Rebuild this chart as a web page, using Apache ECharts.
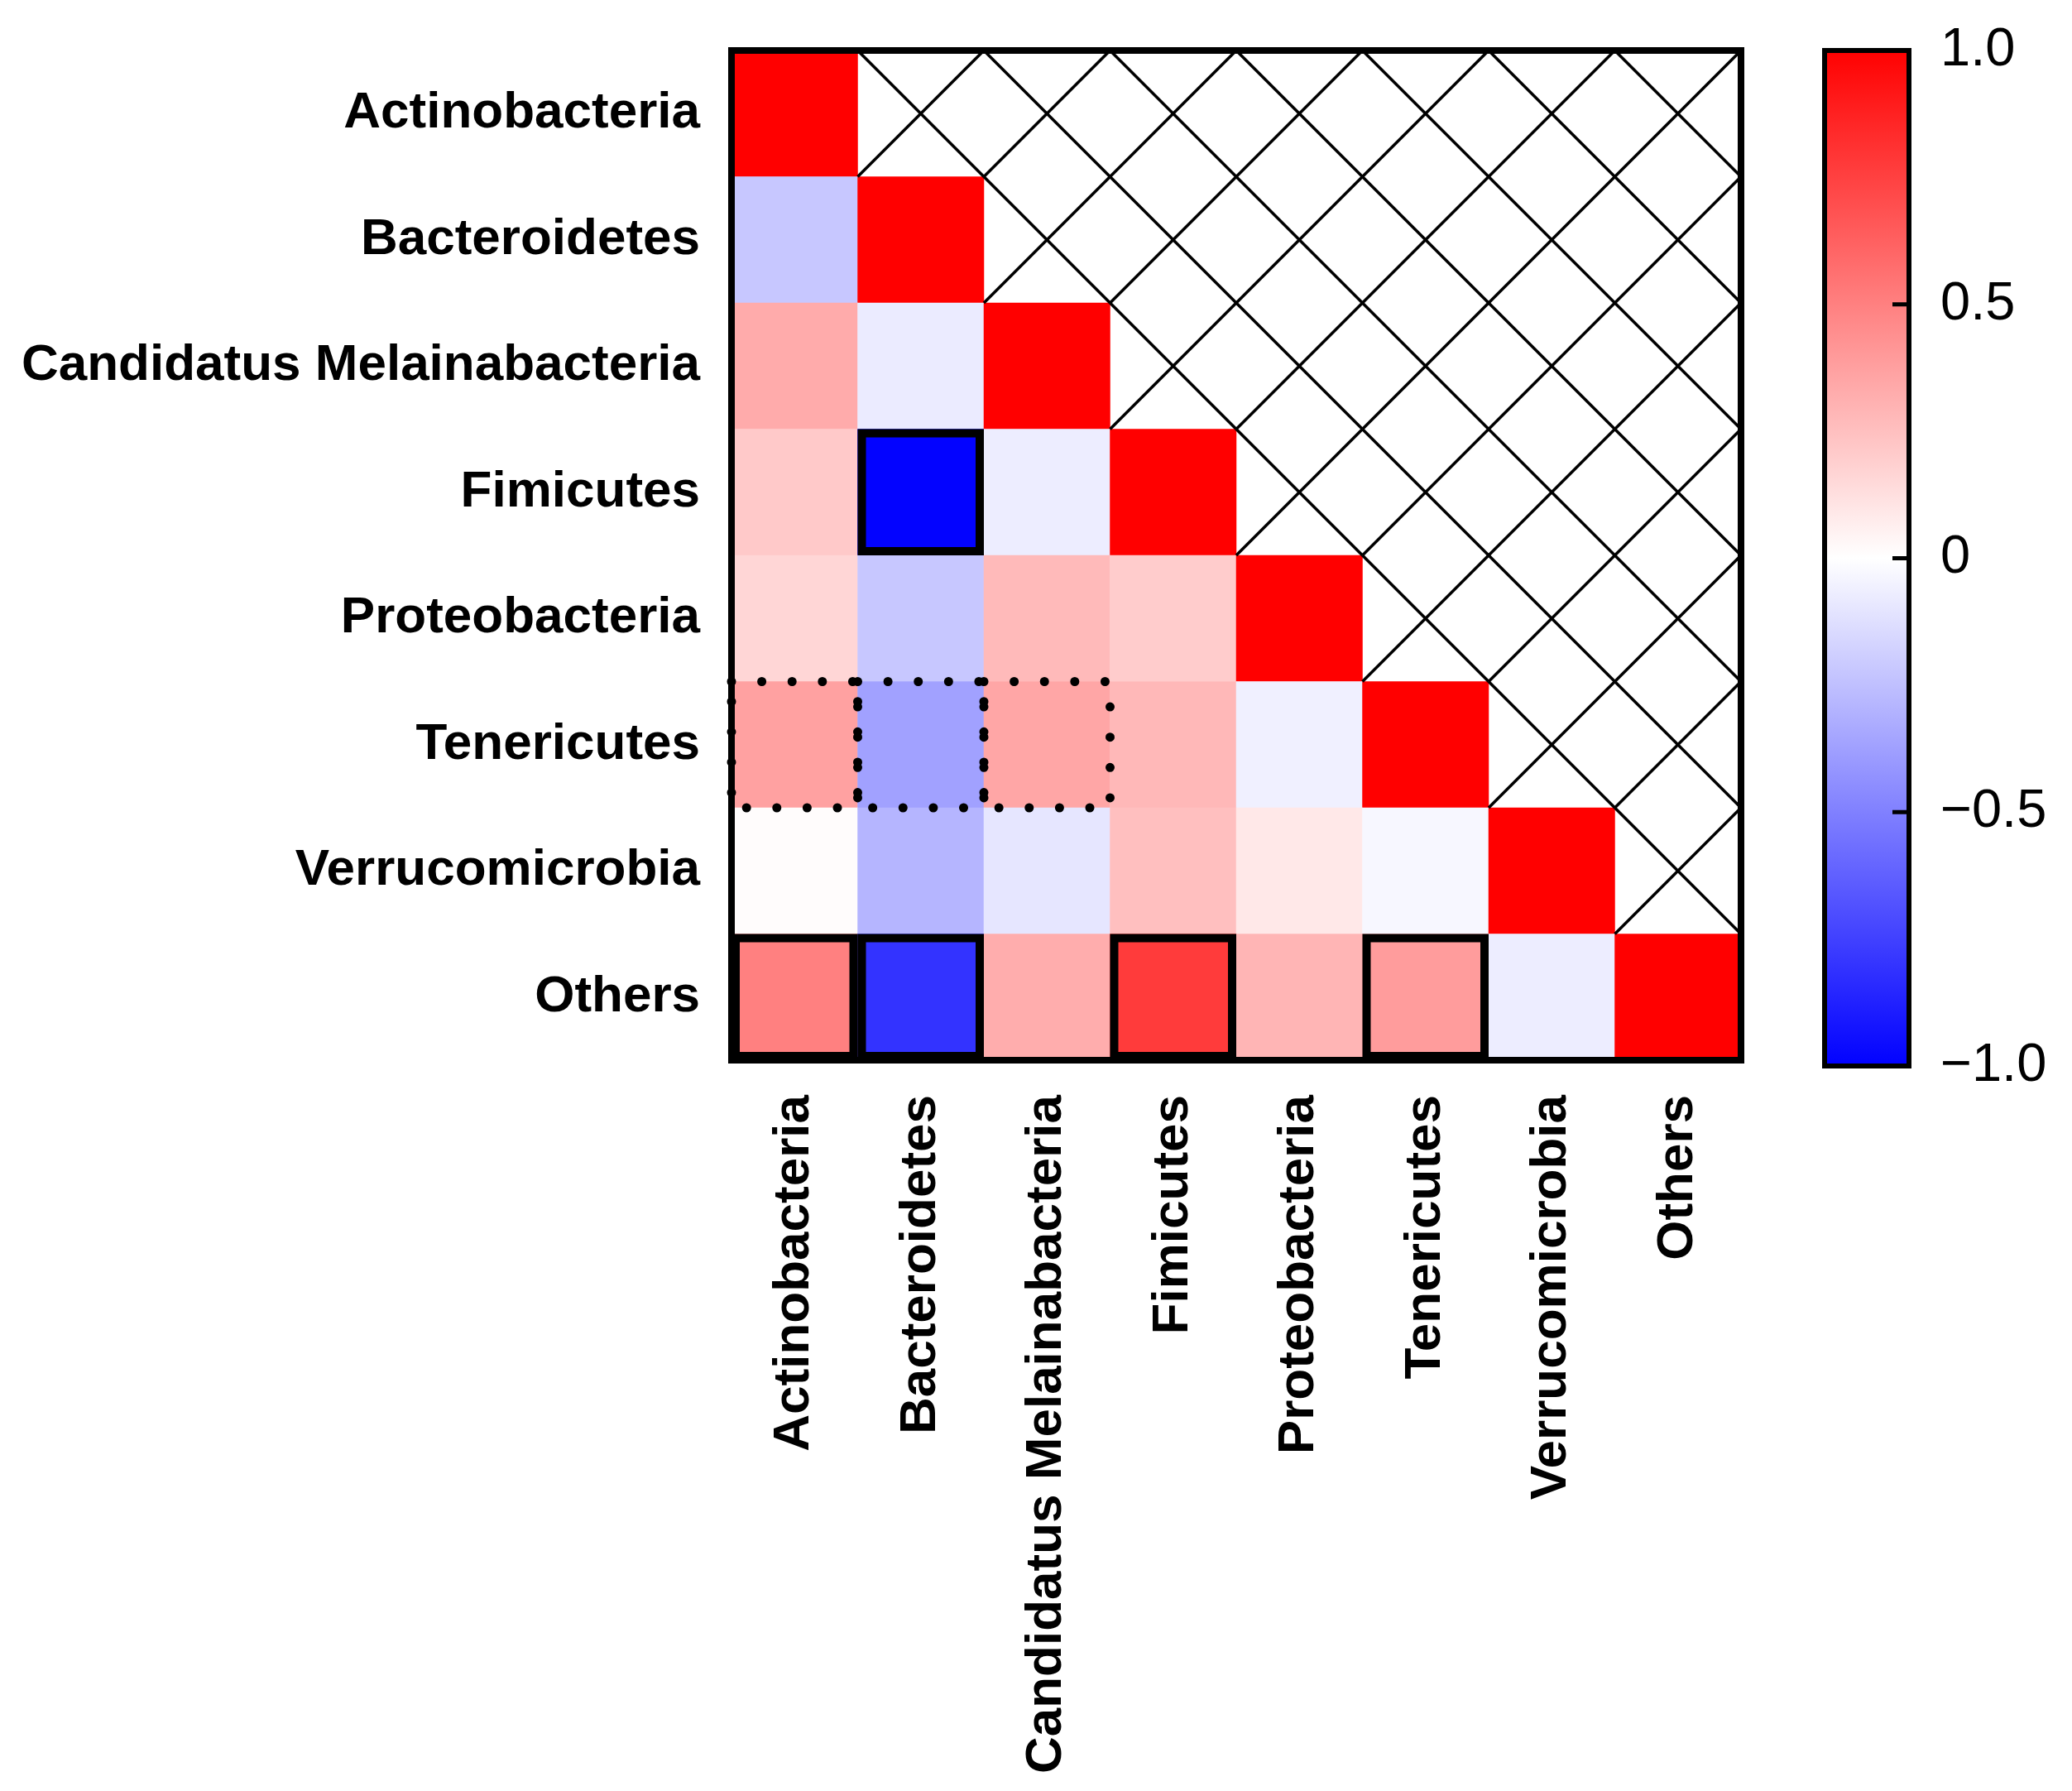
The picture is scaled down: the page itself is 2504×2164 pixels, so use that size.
<!DOCTYPE html>
<html>
<head>
<meta charset="utf-8">
<script src="https://cdn.jsdelivr.net/npm/echarts@6/dist/echarts.min.js"></script>
<style>
html,body{margin:0;padding:0;background:#fff;}
#chart{width:2504px;height:2164px;}
</style>
</head>
<body>
<div id="chart"></div>
<script>
// ---- data ----
const categories = ['Actinobacteria','Bacteroidetes','Candidatus Melainabacteria','Fimicutes','Proteobacteria','Tenericutes','Verrucomicrobia','Others'];
const rowActinobacteria = [1];
const rowBacteroidetes = [-0.22, 1];
const rowCandidatus = [0.33, -0.08, 1];
const rowFimicutes = [0.21, -0.99, -0.07, 1];
const rowProteobacteria = [0.16, -0.22, 0.27, 0.20, 1];
const rowTenericutes = [0.37, -0.37, 0.35, 0.28, -0.06, 1];
const rowVerrucomicrobia = [0.01, -0.29, -0.10, 0.25, 0.09, -0.03, 1];
const rowOthers = [0.50, -0.80, 0.32, 0.77, 0.29, 0.39, -0.07, 1];
const boldCells = [[3,1],[7,0],[7,1],[7,3],[7,5]];   // [row, col]
const dottedCells = [[5,0],[5,1],[5,2]];             // [row, col]
const colorbarTicks = [-1, -0.5, 0, 0.5, 1];
const colorbarTickLabels = ['\u22121.0','\u22120.5','0','0.5','1.0'];

const rows = [rowActinobacteria,rowBacteroidetes,rowCandidatus,rowFimicutes,rowProteobacteria,rowTenericutes,rowVerrucomicrobia,rowOthers];
const heatData = [];
const crossData = [];
rows.forEach((vals, r) => {
  vals.forEach((v, c) => heatData.push([c, r, v]));
  for (let c = vals.length; c < categories.length; c++) crossData.push([c, r]);
});

const chart = echarts.init(document.getElementById('chart'), null, {renderer:'canvas'});
const FONT = 'Liberation Sans, Arial, sans-serif';

function cellRect(api, c, r) {
  const ctr = api.coord([c, r]);
  const sz = api.size([1, 1]);
  return {x: ctr[0]-sz[0]/2, y: ctr[1]-sz[1]/2, w: sz[0], h: sz[1]};
}

chart.setOption({
  animation: false,
  backgroundColor: '#ffffff',
  grid: [
    {left: 884, top: 61, width: 1220, height: 1220},
    {left: 2205, top: 61, width: 102, height: 1227}
  ],
  xAxis: [
    {type:'category', gridIndex:0, data: categories, position:'bottom',
     axisLine:{show:false}, axisTick:{show:false}, splitLine:{show:false},
     axisLabel:{rotate:90, fontSize:62, fontWeight:'bold', color:'#000', fontFamily:FONT, margin:42, interval:0}},
    {type:'value', gridIndex:1, min:0, max:1, show:false,
     axisLine:{show:false}, axisTick:{show:false}, axisLabel:{show:false}, splitLine:{show:false}}
  ],
  yAxis: [
    {type:'category', gridIndex:0, data: categories, inverse:true,
     axisLine:{show:false}, axisTick:{show:false}, splitLine:{show:false},
     axisLabel:{fontSize:62, fontWeight:'bold', color:'#000', fontFamily:FONT, margin:38, interval:0}},
    {type:'value', gridIndex:1, min:-1, max:1, interval:0.5, position:'right',
     axisLine:{show:false}, splitLine:{show:false}, axisTick:{show:false},
     axisLabel:{fontSize:65, color:'#000', fontFamily:FONT, margin:38,
       formatter: v => {
         const i = colorbarTicks.findIndex(t => Math.abs(t - v) < 1e-9);
         return i >= 0 ? colorbarTickLabels[i] : '';
       }}}
  ],
  visualMap: {
    type:'continuous', min:-1, max:1, show:false, seriesIndex:0, dimension:2,
    inRange:{color:['#0000FF','#FFFFFF','#FF0000']}
  },
  series: [
    {type:'heatmap', xAxisIndex:0, yAxisIndex:0, data: heatData,
     itemStyle:{borderWidth:0}, emphasis:{disabled:true}},
    {type:'custom', xAxisIndex:0, yAxisIndex:0, data: crossData, z:3, silent:true,
     renderItem: (params, api) => {
       const b = cellRect(api, api.value(0), api.value(1));
       return {type:'group', children:[
         {type:'line', shape:{x1:b.x, y1:b.y, x2:b.x+b.w, y2:b.y+b.h}, style:{stroke:'#000', lineWidth:3.5}},
         {type:'line', shape:{x1:b.x+b.w, y1:b.y, x2:b.x, y2:b.y+b.h}, style:{stroke:'#000', lineWidth:3.5}}
       ]};
     }},
    {type:'custom', xAxisIndex:0, yAxisIndex:0, data: dottedCells.map(d => [d[1], d[0]]), z:4, silent:true, clip:false,
     renderItem: (params, api) => {
       const b = cellRect(api, api.value(0), api.value(1));
       return {type:'rect', shape:{x:b.x, y:b.y, width:b.w, height:b.h},
         style:{fill:'none', stroke:'#000', lineWidth:11, lineDash:[0.01, 36.6], lineCap:'round'}};
     }},
    {type:'custom', xAxisIndex:0, yAxisIndex:0, data: boldCells.map(d => [d[1], d[0]]), z:5, silent:true,
     renderItem: (params, api) => {
       const b = cellRect(api, api.value(0), api.value(1));
       const t = 10;
       return {type:'rect', shape:{x:b.x+t/2, y:b.y+t/2, width:b.w-t, height:b.h-t},
         style:{fill:'none', stroke:'#000', lineWidth:t}};
     }},
    {type:'custom', xAxisIndex:0, yAxisIndex:0, data: [[0,0]], z:6, silent:true, clip:false,
     renderItem: (params) => {
       const cs = params.coordSys;
       return {type:'rect', shape:{x:cs.x, y:cs.y, width:cs.width, height:cs.height},
         style:{fill:'none', stroke:'#000', lineWidth:8}};
     }},
    {type:'custom', xAxisIndex:1, yAxisIndex:1, data: [[0,0]], z:2, silent:true, clip:false,
     renderItem: (params, api) => {
       const p1 = api.coord([0, 1]);
       const p2 = api.coord([1, -1]);
       const children = [{type:'rect', shape:{x:p1[0], y:p1[1], width:p2[0]-p1[0], height:p2[1]-p1[1]},
         style:{fill: new echarts.graphic.LinearGradient(0,0,0,1,[
           {offset:0, color:'#FF0000'},{offset:0.5, color:'#FFFFFF'},{offset:1, color:'#0000FF'}]),
           stroke:'#000', lineWidth:6}}];
       colorbarTicks.forEach(t => {
         if (t === 1 || t === -1) return;
         const p = api.coord([1, t]);
         children.push({type:'line', shape:{x1:p[0]-20, y1:p[1], x2:p[0], y2:p[1]},
           style:{stroke:'#000', lineWidth:5}});
       });
       return {type:'group', children};
     }}
  ]
});
</script>
</body>
</html>
